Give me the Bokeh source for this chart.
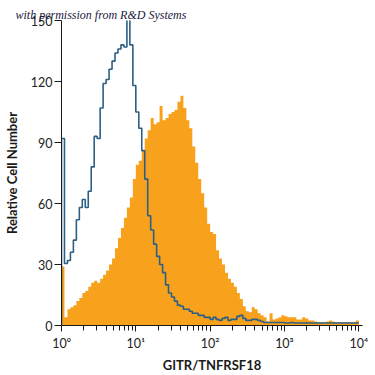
import math
from bokeh.plotting import figure
from bokeh.models import FixedTicker, Range1d, Title
from bokeh.embed import file_html
from bokeh.resources import INLINE

# bins: 25 per decade, from 10^0 to 10^4 (values are log10 of fluorescence)
bins_per_decade = 25
n_bins = 100

# GITR/TNFRSF18 stained (orange, filled)
gitr = [29, 4, 8, 9, 10, 12, 13.5, 16, 17, 19,
        21, 22, 21, 23, 25, 27, 30, 33, 38, 43,
        48, 53, 58, 63, 72, 79, 81, 86, 92, 96,
        102, 99, 100, 108, 101, 102, 104, 105, 106, 110,
        113, 107, 101, 97, 88, 80, 72, 65, 58, 50,
        46, 45, 37, 33, 30, 26, 23, 21, 19, 16,
        13, 9.5, 7, 6.5, 9, 8, 6, 5, 4, 2,
        6, 3, 3.5, 4, 5, 4.5, 4, 4, 4, 3,
        3, 4, 3.5, 2.5, 2.5, 2, 1.5, 1.5, 1.5, 2,
        2.5, 2, 1.5, 1.5, 1.5, 1.5, 1.5, 1.5, 1.5, 2.5]

# isotype control (blue outline)
control = [92, 30.5, 32, 36, 42, 52, 58, 62, 58, 66,
           78, 93, 92, 107, 119, 121, 126, 130, 134, 136,
           138, 137, 152, 138, 118, 105, 97, 86, 72, 54,
           47, 40, 34, 30, 26, 20, 16, 14, 12, 10,
           9.5, 8, 8, 7, 6, 6, 5, 5, 4, 4,
           3, 4, 3, 2.5, 3.5, 4, 2.5, 3, 3, 4.5,
           5, 3.5, 2.5, 2.5, 3, 3, 2.5, 2, 1.5, 1.5,
           1.5, 1.5, 1.5, 1.5, 1.5, 1.2, 1.2, 1.5, 1.2, 1.2,
           1.2, 1.2, 1.2, 1.2, 1.2, 1.2, 1.2, 1.2, 1.2, 1.2,
           1.2, 1.2, 1.2, 1.2, 1.2, 1.2, 1.2, 1.2, 1.2, 1.2]

x_ticks = [0, 1, 2, 3, 4]
x_tick_labels = ["10\u2070", "10\u00b9", "10\u00b2", "10\u00b3", "10\u2074"]
y_ticks = [0, 30, 60, 90, 120, 150]

x_label = "GITR/TNFRSF18"
y_label = "Relative Cell Number"
note = "with permission from R&D Systems"

ORANGE = "#f8a11d"
BLUE = "#2c5f84"
SANS = "Lato"

edges = [i / bins_per_decade for i in range(n_bins + 1)]

p = figure(width=375, height=375, output_backend="svg", toolbar_location=None,
           x_range=Range1d(0, 4.05), y_range=Range1d(0, 150),
           min_border_left=56, min_border_right=13, min_border_top=20, min_border_bottom=47)
p.outline_line_color = None
p.xgrid.visible = False
p.ygrid.visible = False
p.background_fill_color = "white"
p.border_fill_color = "white"

p.varea_step(x=edges, y1=[0] * len(edges), y2=gitr + [gitr[-1]], step_mode="after",
             fill_color=ORANGE)

sx = [edges[0]] + edges[:-1] + [edges[-1]]
sy = [0] + control + [control[-1]]
p.step(x=sx, y=sy, mode="after", line_color=BLUE, line_width=1.6)

minor = [k + math.log10(m) for k in range(4) for m in range(2, 10)]
p.xaxis.ticker = FixedTicker(ticks=x_ticks, minor_ticks=minor)
p.xaxis.major_label_overrides = {t: s for t, s in zip(x_ticks, x_tick_labels)}
p.yaxis.ticker = FixedTicker(ticks=y_ticks)

for ax in (p.xaxis[0], p.yaxis[0]):
    ax.axis_line_color = "#1a1a1a"
    ax.axis_line_width = 1
    ax.major_tick_line_color = "#1a1a1a"
    ax.minor_tick_line_color = "#1a1a1a"
    ax.major_tick_in = 0
    ax.minor_tick_in = 0
    ax.major_label_text_font = SANS
    ax.major_label_text_font_size = "12.5px"
    ax.major_label_text_color = "#222222"
    ax.axis_label_text_font = SANS
    ax.axis_label_text_font_size = "13px"
    ax.axis_label_text_font_style = "bold"
    ax.axis_label_text_color = "#1a1a1a"

p.xaxis.major_tick_out = 6
p.xaxis.minor_tick_out = 5
p.xaxis.major_label_standoff = 4
p.xaxis.axis_label = x_label
p.xaxis.axis_label_standoff = 3

p.yaxis.major_tick_out = 7
p.yaxis.minor_tick_line_color = None
p.yaxis.major_label_standoff = 2
p.yaxis.axis_label = y_label
p.yaxis.axis_label_standoff = 8

p.add_layout(Title(text=note, align="left", offset=-46, standoff=-3,
                   text_font="Liberation Serif", text_font_style="italic",
                   text_font_size="12px", text_color="#1a1a40"), "above")

open("out.html", "w").write(file_html(p, INLINE))
